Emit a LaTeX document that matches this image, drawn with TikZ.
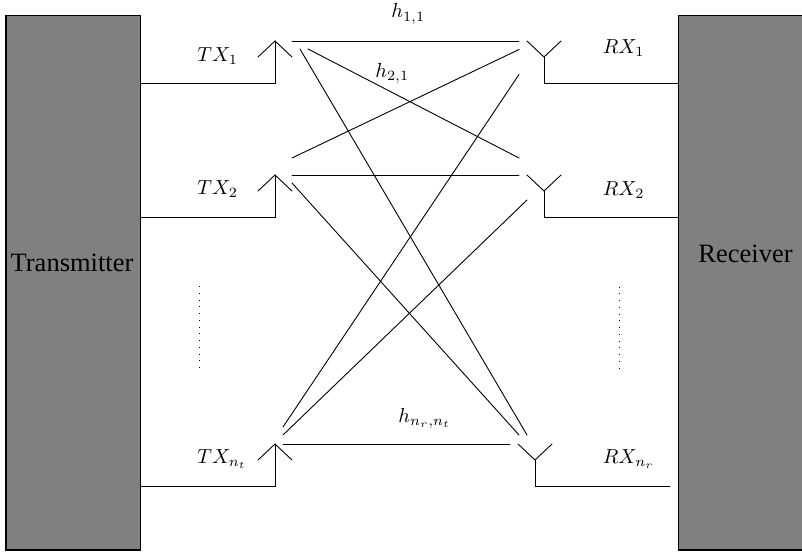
\documentclass[tikz,border=0pt]{standalone}
\usepackage{fontspec}
\setmainfont{Liberation Serif}
\usetikzlibrary{calc}

\tikzset{
    wire/.style={line width=0.9pt, line cap=round},
    block/.style={draw, fill=black!50, line width=1.1pt},
    blocktext/.style={inner sep=0pt, anchor=base, font=\fontsize{26.5}{30}\selectfont},
    chan/.style={inner sep=0pt, anchor=base west, scale=2.03},
    dotcol/.style={line width=1.2pt, dash pattern=on 1.2pt off 5.55pt}
}

\begin{document}
\begin{tikzpicture}[x=1pt, y=-1pt]

\useasboundingbox (0,0) rectangle (802,551);
\clip (0,0) rectangle (802,551);

% Transmitter and receiver blocks
\draw[block] (6,15.5) rectangle (140.5,550);
\draw[block] (678.5,15.5) rectangle (815,550);
\node[blocktext] (tname) at (72,271) {Transmitter};
\node[blocktext] (rname) at (745.5,262) {Receiver};

% Antenna tips
\coordinate (T1) at (275,41);
\coordinate (T2) at (275,175);
\coordinate (T3) at (275,444);
\coordinate (R1) at (544,57);
\coordinate (R2) at (544,191);
\coordinate (R3) at (535,460);

% Transmit antennas, feed comes from the left block
\foreach \t/\yfeed in {T1/83, T2/217, T3/486}
{
    \draw[wire] ($(\t)+(-17,16)$) -- (\t) -- ($(\t)+(17,16)$);
    \coordinate (\t-start) at (140.5,\yfeed);
    \draw[wire] (\t) |- (\t-start);
}

% Receive antennas
\coordinate (R1-end) at (678.5,83);
\coordinate (R2-end) at (678.5,217);
\coordinate (R3-end) at (670,486);
\foreach \r in {R1,R2,R3}
{
    \draw[wire] ($(\r)+(-17,-16)$) -- (\r) -- ($(\r)+(17,-16)$);
    \draw[wire] (\r) |- (\r-end);
}

% Ends of the channel lines
\coordinate (a1) at (292,41);
\coordinate (a2) at (308,49);
\coordinate (a3) at (300,49);
\coordinate (a4) at (292,158);
\coordinate (a5) at (292,175);
\coordinate (a6) at (292,183);
\coordinate (a7) at (283,427);
\coordinate (a8) at (283,435);
\coordinate (a9) at (283,444);
\coordinate (b1) at (519,41);
\coordinate (b2) at (519,158);
\coordinate (b3) at (527,435);
\coordinate (b4) at (519,49.5);
\coordinate (b5) at (519,175);
\coordinate (b6) at (519,435);
\coordinate (b7) at (519,74.5);
\coordinate (b8) at (527,200);
\coordinate (b9) at (510,444);

% Channel lines
\foreach \i in {1,...,9}
{
    \draw[wire] (a\i) -- (b\i);
}

% Labels
\node[chan] (tx1) at (197,61) {$TX_1$};
\node[chan] (tx2) at (197,194.5) {$TX_2$};
\node[chan] (tx3) at (197,463) {$TX_{n_t}$};
\node[chan] (rx1) at (602.5,53) {$RX_1$};
\node[chan] (rx2) at (602.5,195) {$RX_2$};
\node[chan] (rx3) at (602.5,463) {$RX_{n_r}$};
\node[chan] (h11) at (391,18) {$h_{1,1}$};
\node[chan] (h21) at (375,77) {$h_{2,1}$};
\node[chan] (hnn) at (398,422) {$h_{n_r,n_t}$};

% Dots between the antennas
\coordinate (dl1) at (199.5,286);
\coordinate (dl2) at (199.5,369);
\coordinate (dr1) at (619.5,286.5);
\coordinate (dr2) at (619.5,369);
\draw[dotcol] (dl1) -- (dl2);
\draw[dotcol] (dr1) -- (dr2);

\end{tikzpicture}
\end{document}
